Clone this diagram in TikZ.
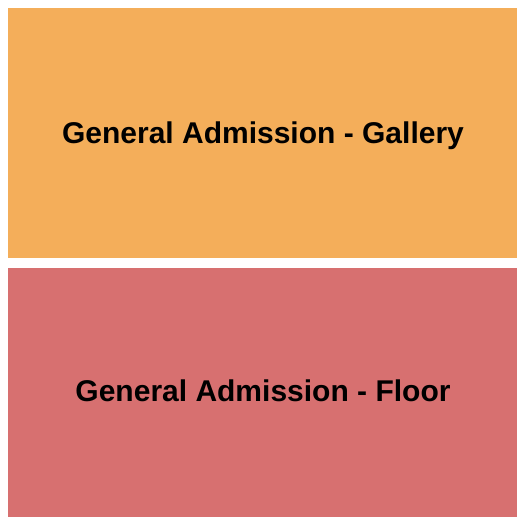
\documentclass[tikz,border=0pt]{standalone}
\usepackage{fontspec}
\setmainfont{Liberation Sans}
\usepackage{tikz}
\definecolor{gallerycol}{HTML}{F4AE5A}
\definecolor{floorcol}{HTML}{D77070}
\tikzstyle{section}=[draw=none, inner sep=0pt, anchor=north west]
\tikzstyle{label}=[font=\bfseries\fontsize{30}{34}\selectfont, text=black]

\begin{document}
\begin{tikzpicture}[x=1pt, y=-1pt]
    \useasboundingbox (0,0) rectangle (525,525);
    \fill[white] (0,0) rectangle (525,525);

    \node[section, fill=gallerycol, minimum width=509pt, minimum height=250pt] (gallery) at (8,8) {};
    \node[section, fill=floorcol, minimum width=509pt, minimum height=249pt] (floor) at (8,268) {};

    \node[label] (gallerytext) at (263,136) {General Admission - Gallery};
    \node[label] (floortext) at (263,391) {General Admission - Floor};

  \end{tikzpicture}
\end{document}
